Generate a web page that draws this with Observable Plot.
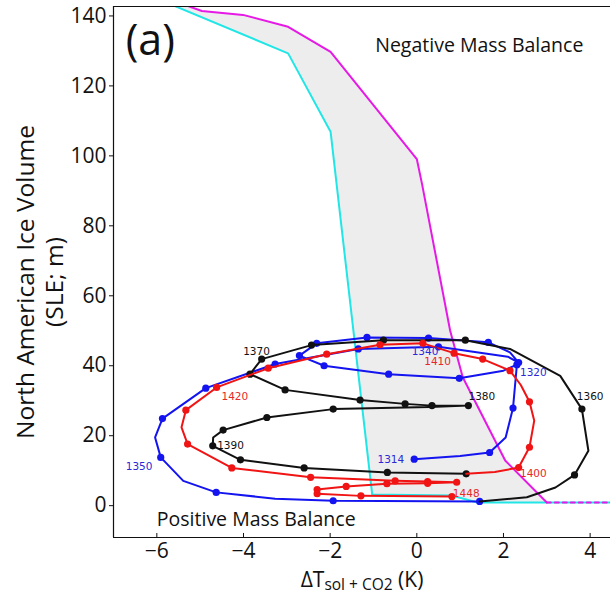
<!DOCTYPE html>
<html>
<head>
<meta charset="utf-8">
<script src="https://cdn.jsdelivr.net/npm/d3@7"></script>
<script src="https://cdn.jsdelivr.net/npm/@observablehq/plot@0.6"></script>
<style>
  html, body { margin: 0; padding: 0; background: white; }
</style>
</head>
<body>
<div id="chart"></div>
<script>
// ---- Tick values ----
const xTicks = [-6, -4, -2, 0, 2, 4];
const yTicks = [0, 20, 40, 60, 80, 100, 120, 140];

// ---- Threshold curves (x = ΔT, y = ice volume) ----
const cyanCurve = [
  [-5.81, 144], [-2.97, 129.3], [-1.99, 106.9], [-1.03, 3.2], [0.8, 2.9], [1.4, 0.9], [4.6, 0.9]
];
const magentaCurve = [
  [-5.54, 144], [-4.96, 141.4], [-4.01, 140.3], [-2.97, 136.9], [-1.99, 129.7],
  [0.0, 99.1], [0.12, 92], [0.77, 50], [1.06, 36.7], [2.04, 12.9], [3.0, 0.9]
];
const magentaTail = [[3.0, 0.9], [4.6, 0.9]];

// ---- Trajectory segments: [x, y, marker] ----
const bluePath = [
  [-0.06, 13.3, 1], [1.0, 14.2, 0], [1.68, 15.2, 1], [2.05, 19.5, 0], [2.22, 27.9, 1],
  [2.31, 40.3, 1], [2.0, 38.6, 0], [0.98, 36.4, 1], [-0.65, 37.6, 1], [-2.14, 40.0, 1],
  [-2.71, 42.9, 1], [-2.31, 46.4, 1], [-1.15, 48.1, 1], [0.27, 47.9, 1], [1.65, 46.7, 1],
  [2.15, 43.8, 0], [2.35, 40.9, 1], [2.1, 42.6, 0], [0.5, 45.4, 1], [-1.35, 44.8, 1],
  [-3.27, 40.5, 1], [-4.87, 33.6, 1], [-5.87, 24.9, 1], [-6.04, 19.5, 0], [-5.91, 13.8, 1],
  [-5.39, 7.1, 0], [-4.63, 3.8, 1], [-3.27, 2.0, 0], [-1.93, 1.4, 1], [1.45, 1.2, 1]
];
const blackPath = [
  [1.45, 1.2, 0], [2.54, 2.4, 0], [3.2, 5.2, 0], [3.64, 8.8, 1], [3.96, 15.7, 0],
  [3.81, 27.6, 1], [3.31, 37.1, 0], [2.15, 44.8, 0], [1.12, 47.3, 1], [-0.77, 47.3, 1],
  [-2.43, 45.9, 1], [-3.58, 41.9, 1], [-3.85, 37.6, 1], [-3.04, 33.1, 1], [-1.31, 30.2, 1],
  [-0.27, 29.1, 1], [0.35, 28.6, 1], [1.19, 28.6, 1], [0.3, 28.2, 0], [-1.93, 27.6, 1],
  [-3.46, 25.2, 1], [-4.47, 21.6, 1], [-4.7, 19.5, 0], [-4.71, 17.1, 1], [-4.07, 13.1, 1],
  [-2.6, 10.8, 1], [-0.68, 9.5, 1], [1.14, 9.1, 1]
];
const redPath = [
  [1.14, 9.1, 0], [1.8, 9.6, 0], [2.35, 10.9, 1], [2.6, 16.7, 1], [2.71, 24.3, 0],
  [2.6, 29.7, 1], [2.4, 34.5, 0], [2.15, 38.6, 1], [1.52, 41.9, 1], [0.86, 43.6, 1],
  [0.14, 46.4, 1], [-0.85, 46.0, 1], [-2.08, 43.3, 1], [-3.43, 39.3, 1], [-4.62, 33.8, 1],
  [-5.33, 27.3, 1], [-5.43, 22.4, 0], [-5.29, 17.6, 1], [-4.27, 10.8, 1], [-2.45, 8.1, 1],
  [-0.5, 7.1, 1], [0.25, 6.9, 1], [0.92, 6.7, 1], [0.25, 6.4, 1], [-0.69, 6.3, 1],
  [-1.63, 5.5, 1], [-2.3, 4.6, 1], [-2.3, 3.4, 1], [-1.29, 2.8, 1], [0.81, 2.6, 1]
];

// ---- Year labels ----
const blueLabels = [["1314", -0.6, 13.3], ["1320", 2.69, 38.1], ["1340", 0.19, 44.0], ["1350", -6.41, 11.2]];
const blackLabels = [["1360", 4.0, 31.1], ["1370", -3.7, 44.0], ["1380", 1.5, 31.1], ["1390", -4.3, 17.1]];
const redLabels = [["1400", 2.69, 9.2], ["1410", 0.48, 41.1], ["1420", -4.2, 31.1], ["1448", 1.14, 3.5]];

// ---- Annotations ----
const notes = [
  {text: "Negative Mass Balance", x: -0.96, y: 131.4, size: 19.5},
  {text: "Positive Mass Balance", x: -6.0, y: -3.9, size: 19.5}
];
const panelLabel = {text: "(a)", x: -6.72, y: 132.9};

const xDomain = [-7.0, 4.47];
const yDomain = [-9.1, 142.7];

const BLUE = "#1414f0", BLACK = "#111111", RED = "#f01414";
const CYAN = "#22e6e6", MAGENTA = "#e619e6";

const toObj = a => ({x: a[0], y: a[1], m: a[2]});
const band = cyanCurve.concat(magentaCurve.slice().reverse()).map(toObj);

function traj(path, color) {
  const pts = path.map(toObj);
  return [
    Plot.line(pts, {x: "x", y: "y", stroke: color, strokeWidth: 2, curve: "linear", clip: true}),
    Plot.dot(pts.filter(d => d.m), {x: "x", y: "y", fill: color, r: 3.6, stroke: "none"})
  ];
}
function labels(arr, color) {
  return Plot.text(arr.map(d => ({t: d[0], x: d[1], y: d[2]})), {
    x: "x", y: "y", text: "t", fill: color, fontSize: 10.5, fontFamily: "DejaVu Sans", textAnchor: "middle"
  });
}

const fmt = d => d < 0 ? "\u2212" + Math.abs(d) : String(d);

const chart = Plot.plot({
  width: 610,
  height: 595,
  marginLeft: 113,
  marginRight: 0,
  marginTop: 6,
  marginBottom: 58,
  style: {fontFamily: "Open Sans", fontSize: "21px", color: "#111", background: "white"},
  x: {domain: xDomain, ticks: xTicks, tickFormat: fmt, label: null, tickSize: 0, tickPadding: 6},
  y: {domain: yDomain, ticks: yTicks, tickFormat: fmt, label: null, tickSize: 4, tickPadding: 3},
  marks: [
    Plot.line(band, {x: "x", y: "y", fill: "#ededed", stroke: "none", clip: true}),
    Plot.line(cyanCurve.map(toObj), {x: "x", y: "y", stroke: CYAN, strokeWidth: 2, clip: true}),
    Plot.line(magentaCurve.map(toObj), {x: "x", y: "y", stroke: MAGENTA, strokeWidth: 2, clip: true}),
    Plot.line(magentaTail.map(toObj), {x: "x", y: "y", stroke: MAGENTA, strokeWidth: 2, strokeDasharray: "4,4", clip: true}),
    ...traj(bluePath, BLUE),
    ...traj(blackPath, BLACK),
    ...traj(redPath, RED),
    labels(blueLabels, "#2a2ad8"),
    labels(blackLabels, "#111"),
    labels(redLabels, "#e82828"),
    Plot.text(notes, {x: "x", y: "y", text: "text", fontSize: d => d.size, textAnchor: "start", fill: "#111"}),
    Plot.text([panelLabel], {x: "x", y: "y", text: "text", fontSize: 43, textAnchor: "start", fill: "#111"}),
    Plot.ruleX([xDomain[0]], {stroke: "#111", strokeWidth: 1.2}),
    Plot.ruleY([yDomain[0], yDomain[1]], {stroke: "#111", strokeWidth: 1.2}),
    Plot.ruleX(xTicks, {x: d => d, y1: yDomain[0], y2: yDomain[0] + 1.15, stroke: "#111", strokeWidth: 1}),
    Plot.text(["North American Ice Volume\n(SLE; m)"], {
      frameAnchor: "left", dx: -74, dy: 10, rotate: -90, fontSize: 24.5, lineHeight: 1.16, textAnchor: "middle", fill: "#111"
    })
  ]
});

document.getElementById("chart").appendChild(chart);

// x-axis label with subscript
const svg = d3.select(chart);
const xl = svg.append("text")
  .attr("x", 362).attr("y", 587)
  .attr("text-anchor", "middle")
  .attr("font-family", "Open Sans")
  .attr("font-size", 21)
  .attr("fill", "#111");
xl.append("tspan").text("\u0394T");
xl.append("tspan").attr("font-size", 15.5).attr("dy", 3).text("sol + CO2");
xl.append("tspan").attr("dy", -3).text(" (K)");
</script>
</body>
</html>
